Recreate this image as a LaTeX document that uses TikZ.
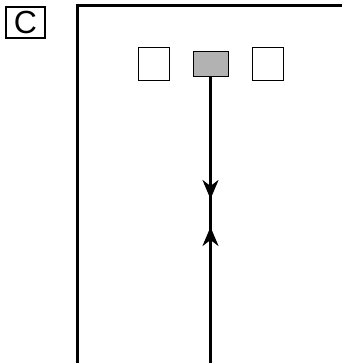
\documentclass[tikz,border=0pt]{standalone}
\usepackage{fontspec}
\setsansfont{Liberation Sans}
\usetikzlibrary{arrows.meta}

\begin{document}
\begin{tikzpicture}[x=1pt,y=1pt,yscale=-1,xscale=1,
  site/.style={draw,line width=1pt,minimum width=31pt,minimum height=33pt,inner sep=0pt},
  flux/.style={line width=2.5pt},
  tip/.style={-{Stealth[length=19pt,width=16pt,inset=6pt]}}]
  \useasboundingbox (0,0) rectangle (341,363);
  % panel label
  \node[draw,line width=1.5pt,minimum width=39pt,minimum height=31pt,inner sep=0pt]
    (tag) at (25.5,22.5) {\sffamily\fontsize{32pt}{32pt}\selectfont C};
  % frame, open past the page edge
  \draw[line width=3pt] (77,366) -- (77,6) -- (344,6) -- (344,366) -- cycle;
  % sites
  \node[site] (left) at (153.5,64.5) {};
  \node[site,fill=black!30,minimum width=35pt,minimum height=25pt] (mid) at (210.5,64.5) {};
  \node[site] (right) at (267.5,64.5) {};
  % flux line
  \coordinate (down) at (210.5,199);
  \coordinate (up) at (210.5,227);
  \coordinate (base) at (210.5,366);
  \draw[flux] (mid.south) -- (base);
  \draw[flux,tip] (mid.south) -- (down);
  \draw[flux,tip] (base) -- (up);
\end{tikzpicture}
\end{document}
